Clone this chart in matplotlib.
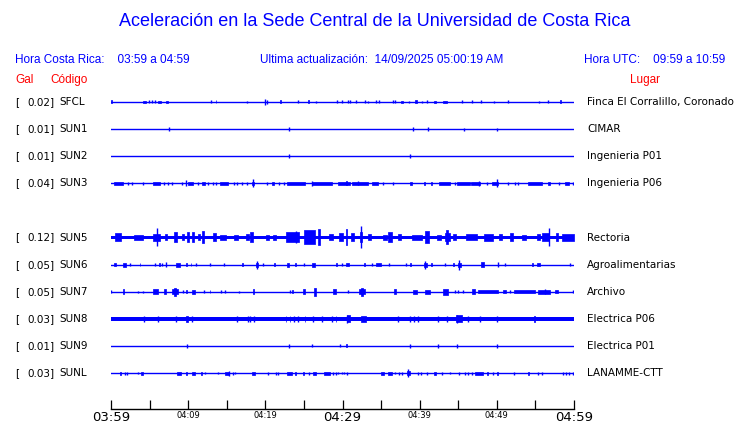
import matplotlib
matplotlib.use("Agg")
import matplotlib.pyplot as plt

W, H = 740, 423

# station metadata
codes = ["SFCL", "SUN1", "SUN2", "SUN3", "SUN5", "SUN6", "SUN7", "SUN8", "SUN9", "SUNL"]
slots = [0, 1, 2, 3, 5, 6, 7, 8, 9, 10]
gal = [0.02, 0.01, 0.01, 0.04, 0.12, 0.05, 0.05, 0.03, 0.01, 0.03]
places = ["Finca El Corralillo, Coronado", "CIMAR", "Ingenieria P01", "Ingenieria P06",
          "Rectoria", "Agroalimentarias", "Archivo", "Electrica P06", "Electrica P01",
          "LANAMME-CTT"]

# baseline half-thickness of each trace (px), 0 = thin line
base = [0, 0, 0, 0, 1.9, 0, 0, 1.8, 0, 0]

# bursts: (minute after 03:59, half amplitude px, duration min)
sfcl = [(0.1, 1.5, 0.15), (4.3, 1.3, 0.35), (4.97, 1.5, 0), (5.27, 1.5, 0), (5.7, 1.5, 0),
        (6.3, 1.3, 0.35), (7.25, 1.3, 0.3), (12.9, 1.5, 0), (13.6, 1.5, 0.1), (17.57, 1.2, 0),
        (20.0, 3, 0), (20.25, 2, 0), (21.98, 1.5, 0.1), (24.18, 1.5, 0), (25.56, 1.5, 0.1),
        (26.6, 1.2, 0), (29.32, 1.5, 0), (29.88, 1.5, 0), (30.66, 1.5, 0), (30.96, 1.5, 0),
        (31.74, 1.5, 0), (32.94, 1.5, 0), (33.33, 1.2, 0), (34.28, 1.5, 0), (34.72, 1.5, 0),
        (36.6, 1.5, 0), (36.8, 1.5, 0), (37.74, 1.3, 0.25), (38.6, 1.2, 0), (39.5, 1.5, 0.25),
        (40.33, 1.2, 0), (40.93, 1.5, 0), (41.97, 1.3, 0.3), (43.26, 1.3, 0.6), (45.47, 1.5, 0),
        (46.76, 1.5, 0), (47.93, 1.5, 0), (49.65, 1.2, 0), (51.47, 1.5, 0), (55.48, 1.2, 0),
        (56.65, 1.5, 0), (58.25, 1.5, 0.2)]
sun1 = [(7.56, 2, 0), (23.1, 2, 0), (39.16, 2, 0), (41.1, 2, 0), (45.77, 1.5, 0), (50.04, 1.5, 0)]
sun2 = [(23.1, 2, 0), (38.77, 2, 0)]
sun3 = [(1.0, 1.3, 1.2), (2.16, 1.5, 0), (2.68, 1.5, 0), (4.19, 1.5, 0), (5.9, 1.3, 0.9),
        (6.9, 1.5, 0), (7.43, 1.5, 0), (7.86, 1.5, 0), (9.24, 1.5, 0), (9.7, 3, 0),
        (10.3, 1.3, 0.65), (11.3, 1.5, 0), (12.0, 1.3, 0.3), (12.6, 1.5, 0), (13.17, 1.5, 0),
        (13.6, 1.5, 0), (14.65, 1.3, 1.1), (16.0, 1.5, 0), (16.36, 1.5, 0), (17.0, 1.5, 0),
        (17.66, 1.5, 0), (18.35, 4, 0), (18.4, 1.3, 0.2), (20.16, 1.5, 0), (21.03, 1.3, 0.25),
        (21.76, 1.5, 0), (22.4, 1.5, 0), (24.0, 1.3, 2.3), (27.3, 1.3, 2.6), (26.08, 2.5, 0),
        (30.2, 1.3, 1.5), (30.5, 2.2, 0.15), (32.25, 1.3, 2.1), (32.0, 2, 0), (34.2, 1.3, 0.8),
        (35.3, 1.5, 0), (36.6, 1.5, 0), (38.9, 1.3, 0.3), (40.6, 1.3, 0.15), (41.5, 1.3, 0.15),
        (43.2, 1.3, 1.4), (44.56, 1.5, 0), (45.7, 1.3, 1.6), (47.25, 1.3, 1.1), (47.67, 2.5, 0),
        (48.75, 1.5, 0), (49.75, 1.3, 0.8), (50.04, 4, 0), (51.47, 1.5, 0), (52.3, 1.5, 0),
        (52.76, 1.5, 0), (54.9, 1.3, 1.8), (56.8, 1.3, 0.3), (58.0, 1.5, 0), (59.1, 1.3, 0.6),
        (59.9, 1.5, 0)]
sun5 = [(0.9, 4, 0.8), (3.6, 2.4, 1.2), (5.9, 3.5, 0.9), (6.0, 9, 0), (7.1, 3, 0.3),
        (8.3, 5, 0.4), (9.3, 3, 0.3), (10.0, 5, 0.3), (10.6, 5, 0.3), (11.4, 3, 0.3),
        (11.9, 6, 0.3), (13.4, 4, 0.4), (14.5, 2.4, 0.8), (16.2, 2.4, 0.6), (17.7, 3, 0.3),
        (18.2, 5, 0.3), (20.3, 2.5, 0.3), (21.2, 2.5, 0.3), (23.5, 5, 1.7), (24.0, 6, 0),
        (25.7, 7, 1.4), (26.9, 8, 0.25), (28.5, 3, 0.6), (29.8, 4, 0.5), (30.5, 8, 0.2),
        (31.3, 4, 0.4), (32.4, 11, 0), (32.4, 5, 0.3), (33.5, 3, 0.5), (35.5, 2.4, 0.5),
        (36.2, 5, 0.5), (37.4, 3, 0.3), (39.6, 2.5, 1.3), (41.0, 6, 0.5), (42.5, 2.4, 0.4),
        (43.5, 7, 0.3), (43.6, 4, 0.6), (44.5, 3, 0.4), (46.7, 3, 1.5), (48.9, 3.5, 1.2),
        (50.5, 3, 0.4), (51.9, 4, 0.3), (53.5, 2.5, 0.6), (55.4, 3, 0.5), (56.3, 4, 0.8),
        (56.8, 9, 0), (57.8, 4, 0.3), (59.2, 3.5, 1.5)]
sun6 = [(0.52, 1.5, 0.15), (1.73, 2, 0.3), (2.46, 1.5, 0), (3.76, 1.5, 0.1), (5.7, 1.5, 0),
        (6.26, 1.5, 0.1), (6.56, 1.5, 0), (7.12, 2.5, 0), (8.68, 2, 0.5), (9.8, 1.5, 0.1),
        (10.36, 1.5, 0.1), (10.97, 1.5, 0), (12.82, 1.2, 0), (14.68, 1.2, 0), (17.06, 1.5, 0.1),
        (18.87, 4, 0), (18.9, 2, 0.3), (19.73, 1.5, 0), (21.16, 1.5, 0.1), (22.88, 2, 0.25),
        (23.92, 1.5, 0.1), (24.96, 1.2, 0), (26.3, 2, 0.4), (29.23, 1.5, 0.1), (29.88, 1.5, 0),
        (30.7, 1.8, 0.4), (32.9, 1.5, 0.1), (33.77, 1.5, 0), (34.7, 1.8, 0.6), (35.97, 1.2, 0),
        (38.2, 1.5, 0), (38.86, 1.5, 0.1), (40.72, 4, 0), (40.75, 2, 0.3), (41.54, 1.5, 0.1),
        (43.26, 1.2, 0), (44.34, 1.5, 0.1), (45.12, 5, 0), (45.15, 2, 0.3), (48.14, 2.5, 0.3),
        (50.09, 2.5, 0), (51.04, 1.2, 0), (54.62, 1.5, 0.1), (55.4, 1.8, 0.3), (59.46, 1.5, 0)]
sun7 = [(0.0, 1.5, 0), (1.6, 2.5, 0.2), (3.54, 1.2, 0), (4.1, 1.2, 0), (5.79, 2.5, 0.65),
        (7.0, 2.5, 0.2), (8.29, 4, 0.3), (8.3, 2.5, 0.8), (9.37, 1.5, 0), (9.8, 1.5, 0.1),
        (10.7, 1.8, 0.4), (12.05, 1.5, 0), (12.82, 1.5, 0.1), (14.2, 1.5, 0), (14.77, 1.5, 0),
        (16.62, 1.2, 0), (18.44, 2.5, 0.15), (23.19, 1.5, 0), (23.5, 1.5, 0.1), (25.04, 2.5, 0.3),
        (26.42, 4, 0.3), (29.0, 2.5, 0.4), (30.66, 1.5, 0), (32.56, 4, 0.3), (32.5, 2.5, 0.8),
        (36.79, 2.5, 0.3), (39.38, 2, 0.5), (40.98, 2, 0.6), (43.35, 3, 0.6), (44.56, 1.5, 0),
        (44.99, 1.5, 0), (45.64, 1.5, 0), (46.93, 2.5, 0.4), (48.88, 1.5, 2.6), (51.04, 1.5, 0.4),
        (51.68, 1.5, 0), (53.58, 1.5, 2.7), (56.13, 2, 1.5), (56.3, 2.5, 0), (57.73, 1.5, 0.4),
        (59.89, 1.5, 0)]
sun8 = [(4.32, 3, 0), (6.13, 2.8, 0), (8.46, 2.8, 0), (9.8, 3, 0.25), (10.45, 3, 0),
        (16.28, 3, 0), (17.7, 3, 0), (18.0, 2.8, 0), (18.48, 2.8, 0), (22.67, 3, 0.1),
        (23.19, 3, 0.1), (23.7, 3, 0), (24.18, 2.8, 0), (25.13, 3, 0.1), (26.2, 3, 0),
        (27.29, 3, 0), (28.58, 3, 0), (29.15, 3, 0.1), (30.74, 3.5, 0.4), (30.6, 4, 0),
        (32.73, 3, 0.6), (37.13, 2.8, 0), (38.77, 3, 0), (39.29, 3, 0), (39.81, 2.8, 0),
        (42.4, 3, 0), (43.48, 3, 0), (45.12, 3.5, 0.7), (44.85, 4, 0), (46.2, 2.8, 0),
        (47.8, 2.8, 0), (50.04, 3, 0), (54.92, 3, 0.1)]
sun9 = [(9.8, 2, 0), (23.1, 2, 0), (26.08, 1.5, 0), (29.7, 1.5, 0), (30.53, 1.5, 0.2),
        (38.77, 2, 0), (42.4, 2, 0), (44.9, 2, 0), (50.04, 2, 0)]
sunl = [(1.25, 1.5, 0.1), (1.81, 1.5, 0), (2.12, 1.5, 0), (3.54, 1.2, 0), (4.06, 1.5, 0.25),
        (8.8, 1.5, 0.6), (9.8, 1.5, 0.1), (10.66, 1.5, 0.4), (11.74, 1.5, 0.1), (12.18, 1.2, 0),
        (13.9, 1.2, 0), (15.0, 1.5, 0.5), (15.3, 2.5, 0), (15.76, 1.5, 0), (16.06, 1.2, 0),
        (18.48, 1.5, 0.3), (20.38, 1.5, 0), (21.33, 1.5, 0), (21.6, 1.5, 0), (23.1, 1.5, 0.7),
        (23.92, 1.5, 0.1), (24.9, 1.5, 0.1), (25.65, 1.5, 0), (26.38, 1.5, 0.3), (27.98, 1.5, 0.8),
        (28.71, 1.5, 0), (29.15, 1.5, 0), (29.45, 1.2, 0), (29.88, 1.2, 0), (30.22, 1.2, 0),
        (30.61, 1.5, 0), (35.23, 1.5, 0.4), (36.1, 1.5, 0.5), (36.79, 1.2, 0), (37.35, 1.5, 0),
        (37.65, 1.5, 0), (38.51, 4, 0), (38.5, 2, 0.4), (39.81, 1.5, 0), (40.11, 1.5, 0),
        (40.98, 1.5, 0), (41.97, 1.5, 0.2), (42.83, 1.5, 0), (43.96, 1.2, 0), (45.12, 1.5, 0),
        (45.86, 1.5, 0), (46.29, 1.5, 0), (46.72, 1.5, 0), (47.67, 1.5, 1.0), (48.79, 1.5, 0.15),
        (49.53, 1.5, 0), (50.09, 1.5, 0.1), (52.25, 1.5, 0), (54.15, 1.5, 0.15), (55.35, 1.5, 0),
        (55.79, 1.5, 0), (58.6, 1.5, 0), (59.02, 1.5, 0), (59.33, 1.5, 0), (59.89, 1.5, 0)]
events = [sfcl, sun1, sun2, sun3, sun5, sun6, sun7, sun8, sun9, sunl]

tick_min = list(range(0, 61, 5))
tick_lab = {0: "03:59", 10: "04:09", 20: "04:19", 30: "04:29", 40: "04:39", 50: "04:49", 60: "04:59"}
big_ticks = [0, 30, 60]

BLUE = "#0000ff"
RED = "#ff0000"
ROW = 27.1          # px between rows
Y0 = 102            # px of the first row

fig = plt.figure(figsize=(W / 100, H / 100), dpi=100)
fig.patch.set_facecolor("white")

# axes in pixel geometry
x_left, x_right = 111, 574
y_top, y_bot = 88, 409
ax = fig.add_axes([x_left / W, (H - y_bot) / H, (x_right - x_left) / W, (y_bot - y_top) / H])
ax.set_xlim(0, 60)
ax.set_ylim((y_bot - Y0) / ROW, (y_top - Y0) / ROW)
for s in ["top", "left", "right"]:
    ax.spines[s].set_visible(False)
ax.spines["bottom"].set_linewidth(1.0)
ax.set_yticks([])
ax.set_xticks(tick_min)
ax.set_xticklabels([tick_lab.get(t, "") for t in tick_min])
ax.tick_params(axis="x", direction="in", length=6.5, width=0.9, pad=1.5, colors="black")
for t, lab in zip(tick_min, ax.get_xticklabels()):
    lab.set_fontsize(9.5 if t in big_ticks else 6)
    lab.set_family("DejaVu Sans")
ax.get_xticklabels()[0].set_x(-0.5)

for i, slot in enumerate(slots):
    y = slot
    b = base[i] / ROW
    if b > 0:
        ax.fill_between([0, 60], y - b, y + b, color=BLUE, lw=0)
    else:
        ax.plot([0, 60], [y, y], color=BLUE, lw=1.0)
    for t, a, d in events[i]:
        a = a / ROW
        if d > 0:
            ax.fill_between([t - d / 2, t + d / 2], y - a, y + a, color=BLUE, lw=0.5,
                            edgecolor=BLUE)
        else:
            ax.vlines(t, y - a, y + a, color=BLUE, lw=1.0)

    ypx = H - (Y0 + ROW * slot)
    fig.text(15 / W, ypx / H, "[", fontsize=7.5, family="DejaVu Sans", va="center", ha="left")
    fig.text(55 / W, ypx / H, f"{gal[i]:.2f}]", fontsize=7.5, family="DejaVu Sans",
             va="center", ha="right")
    fig.text(59 / W, ypx / H, codes[i], fontsize=7.5, family="DejaVu Sans", va="center", ha="left")
    fig.text(587 / W, ypx / H, places[i], fontsize=7.5, family="DejaVu Sans",
             va="center", ha="left")

hf = "Liberation Sans"
fig.text(375 / W, (H - 22) / H, "Aceleración en la Sede Central de la Universidad de Costa Rica",
         fontsize=13, family=hf, color=BLUE, ha="center", va="center")
fig.text(15 / W, (H - 60) / H, "Hora Costa Rica:    03:59 a 04:59", fontsize=8.5, family=hf,
         color=BLUE, ha="left", va="center")
fig.text(260 / W, (H - 60) / H, "Ultima actualización:  14/09/2025 05:00:19 AM", fontsize=8.5,
         family=hf, color=BLUE, ha="left", va="center")
fig.text(725 / W, (H - 60) / H, "Hora UTC:    09:59 a 10:59", fontsize=8.5, family=hf,
         color=BLUE, ha="right", va="center")
fig.text(15 / W, (H - 80) / H, "Gal", fontsize=8.5, family=hf, color=RED, ha="left", va="center")
fig.text(50 / W, (H - 80) / H, "Código", fontsize=8.5, family=hf, color=RED, ha="left", va="center")
fig.text(630 / W, (H - 80) / H, "Lugar", fontsize=8.5, family=hf, color=RED, ha="left", va="center")

fig.savefig("out.png", dpi=100)
